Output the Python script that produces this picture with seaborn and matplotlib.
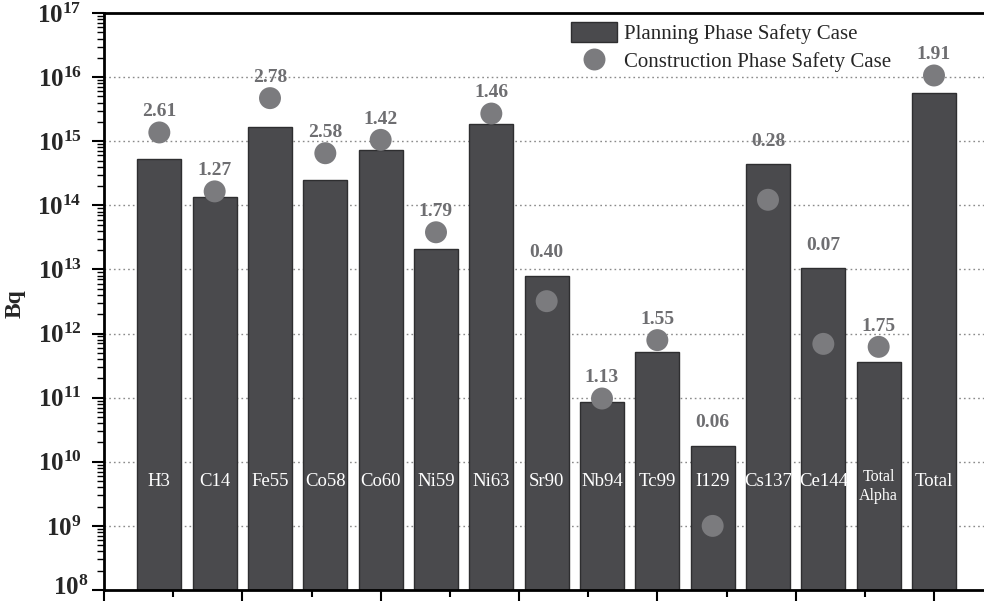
import numpy as np
import pandas as pd
import matplotlib
matplotlib.use("Agg")
import matplotlib.pyplot as plt
import seaborn as sns
from matplotlib.ticker import FixedLocator, FuncFormatter, LogLocator, NullFormatter
from matplotlib.patches import Rectangle
from matplotlib.lines import Line2D

# ---- data ----
nuclides = ["H3", "C14", "Fe55", "Co58", "Co60", "Ni59", "Ni63", "Sr90", "Nb94",
            "Tc99", "I129", "Cs137", "Ce144", "Total\nAlpha", "Total"]
planning = [5.3e14, 1.33e14, 1.69e15, 2.5e14, 7.2e14, 2.1e13, 1.85e15, 8.0e12,
            8.5e10, 5.1e11, 1.78e10, 4.35e14, 1.04e13, 3.54e11, 5.6e15]
construction = [1.37e15, 1.65e14, 4.7e15, 6.5e14, 1.05e15, 3.8e13, 2.7e15, 3.2e12,
                9.7e10, 7.9e11, 1.0e9, 1.22e14, 6.9e11, 6.2e11, 1.06e16]
ratios = ["2.61", "1.27", "2.78", "2.58", "1.42", "1.79", "1.46", "0.40",
          "1.13", "1.55", "0.06", "0.28", "0.07", "1.75", "1.91"]
decades = list(range(8, 18))

df = pd.DataFrame({"nuclide": nuclides, "planning": planning,
                   "construction": construction})
df["pos"] = np.arange(len(df))

sns.set_theme(style="white")
plt.rcParams["font.family"] = ["Liberation Serif", "DejaVu Serif"]
plt.rcParams["mathtext.fontset"] = "custom"
plt.rcParams["mathtext.rm"] = "Liberation Serif"
plt.rcParams["mathtext.bf"] = "Liberation Serif:bold"

BAR = "#4a4a4d"
DOT = "#7b7b7e"
LAB = "#6e6e71"

fig = plt.figure(figsize=(9.84, 6.01), dpi=100)
ax = fig.add_axes([104 / 984, 11 / 601, 913 / 984, 577 / 601])
ax.set_yscale("log")

sns.barplot(data=df, x="nuclide", y="planning", color=BAR, width=0.80,
            edgecolor="#2e2e30", linewidth=1.0, saturation=1, ax=ax, zorder=2)
ax.scatter(df["pos"], df["construction"], s=250, color=DOT, zorder=3,
           edgecolor="none")

ax.set_ylim(1e8, 1e17)
ax.set_xlim(-1, 15.5)

# ratio labels
for i, (p, c, r) in enumerate(zip(planning, construction, ratios)):
    if c > p:
        y, off = c, 15.0
    else:
        y, off = p, 16.5
    ax.annotate(r, (i, y), xytext=(0, off), textcoords="offset points",
                ha="center", va="center", fontsize=14, fontweight="bold",
                color=LAB, zorder=4)

# category names inside bars
for i, name in enumerate(nuclides):
    if "\n" in name:
        ax.annotate(name, (i, 4.9e9), xytext=(0, -3.5), textcoords="offset points",
                    ha="center", va="center", color="white",
                    fontsize=11.5, linespacing=1.2, zorder=4)
    else:
        ax.text(i, 4.9e9, name, ha="center", va="center", color="white",
                fontsize=13.5, zorder=4)

# axes styling
ax.set_xticks([-1, 1.5, 4, 6.5, 9, 11.5, 14])
ax.set_xticks([0.25, 2.75, 5.25, 7.75, 10.25, 12.75], minor=True)
ax.set_xticklabels([])
ax.tick_params(axis="x", which="major", direction="out", length=10, width=1.5,
               bottom=True, color="black")
ax.tick_params(axis="x", which="minor", direction="out", length=5, width=1.5,
               bottom=True, color="black")
ax.set_xlabel("")

ax.yaxis.set_major_locator(FixedLocator([10.0 ** k for k in decades]))
ax.yaxis.set_minor_locator(LogLocator(base=10, subs=np.arange(2, 10), numticks=100))
ax.yaxis.set_minor_formatter(NullFormatter())


def fmt(v, _):
    k = int(round(np.log10(v)))
    if k == decades[0]:
        return ""
    return r"$\mathbf{10^{%d}}$" % k


ax.yaxis.set_major_formatter(FuncFormatter(fmt))
ax.tick_params(axis="y", which="major", direction="out", length=9, width=1.5,
               left=True, labelsize=18, pad=7, color="black")
ax.tick_params(axis="y", which="minor", direction="out", length=5, width=1.0,
               left=True, color="black")
# bottom decade label placed by hand, nudged up so it stays inside the figure
ax.annotate(r"$\mathbf{10^{%d}}$" % decades[0], (0, 10.0 ** decades[0]),
            xycoords=("axes fraction", "data"), xytext=(-11.5, 1.5),
            textcoords="offset points", ha="right", va="center", fontsize=18,
            annotation_clip=False)

ax.set_ylabel("Bq", fontsize=17, fontweight="bold", va="center")
ax.yaxis.set_label_coords(-89 / 913, 0.496)

ax.grid(False)
for k in decades[1:-1]:
    ax.axhline(10.0 ** k, color="#8a8a8a", linestyle=(0, (1.2, 2.2)),
               linewidth=1.0, zorder=0)

for s in ["left", "bottom", "top", "right"]:
    ax.spines[s].set_visible(True)
    ax.spines[s].set_color("black")
    ax.spines[s].set_linewidth(2.0)

# legend
handles = [Rectangle((0, 0), 1, 1, facecolor=BAR, edgecolor="#2e2e30", linewidth=1.0),
           Line2D([], [], marker="o", linestyle="none", markersize=15.8,
                  markerfacecolor=DOT, markeredgecolor="none")]
fig.legend(handles, ["Planning Phase Safety Case", "Construction Phase Safety Case"],
           loc="upper left", bbox_to_anchor=(571 / 984, 1 - 22 / 601),
           frameon=False, fontsize=15, handlelength=2.2, handleheight=1.1,
           handletextpad=0.35, labelspacing=0.3, borderpad=0, borderaxespad=0)

fig.savefig("out.png", dpi=100)
